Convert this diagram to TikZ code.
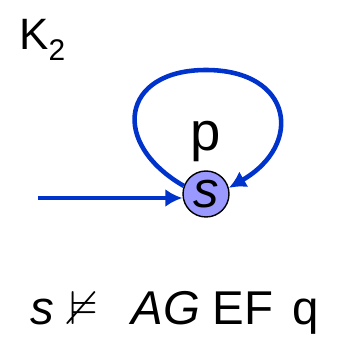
\documentclass[tikz,border=0pt]{standalone}
\usepackage{amssymb}
\usepackage{fontspec}
\setmainfont{Liberation Sans}
\definecolor{kblue}{HTML}{0033CC}
\definecolor{kstate}{HTML}{9999FF}
\usetikzlibrary{arrows.meta, positioning}
\tikzset{
	kstatenode/.style={circle, draw=black, line width=0.8pt, fill=kstate,
		minimum size=0.92cm, inner sep=0pt, font=\fontsize{29}{30}\selectfont\itshape},
	karr/.style={-{Latex[length=3.4mm, width=3.6mm]}, line width=2.6pt, draw=kblue},
	klabel/.style={inner sep=0pt, font=\fontsize{31}{32}\selectfont},
	kformula/.style={inner sep=0pt, anchor=base, font=\fontsize{27}{28}\selectfont}
}

\begin{document}
\begin{tikzpicture}[x=0.02cm, y=0.02cm]
	\useasboundingbox (0,0) rectangle (338,342);
	\node[kstatenode] (s) at (206,148) {s};
	\node[klabel, above=0.16cm of s] (p) {p};
	\node[inner sep=0pt, anchor=base west, font=\fontsize{25}{26}\selectfont] (k) at (19,292)
		{K\raisebox{-6pt}{\fontsize{17}{18}\selectfont 2}};
	\coordinate (init) at (38,144);
	\coordinate (looptop) at (206,272);
	\draw[karr] (init) -- (init -| s.west);
	\draw[karr] (s.160) to[out=150, in=180, looseness=1.85] (looptop)
		to[out=0, in=30, looseness=1.85] (s.15);
	% s does not satisfy AG EF q
	\node[kformula] (sleft) at (42,17) {\textit{s}};
	\node[kformula] (nsat) at (84,17) {$\nvDash$};
	\node[kformula] (ag) at (166,17) {\textit{AG}};
	\node[kformula] (ef) at (243,17) {EF};
	\node[kformula] (q) at (306,17) {q};
\end{tikzpicture}
\end{document}
